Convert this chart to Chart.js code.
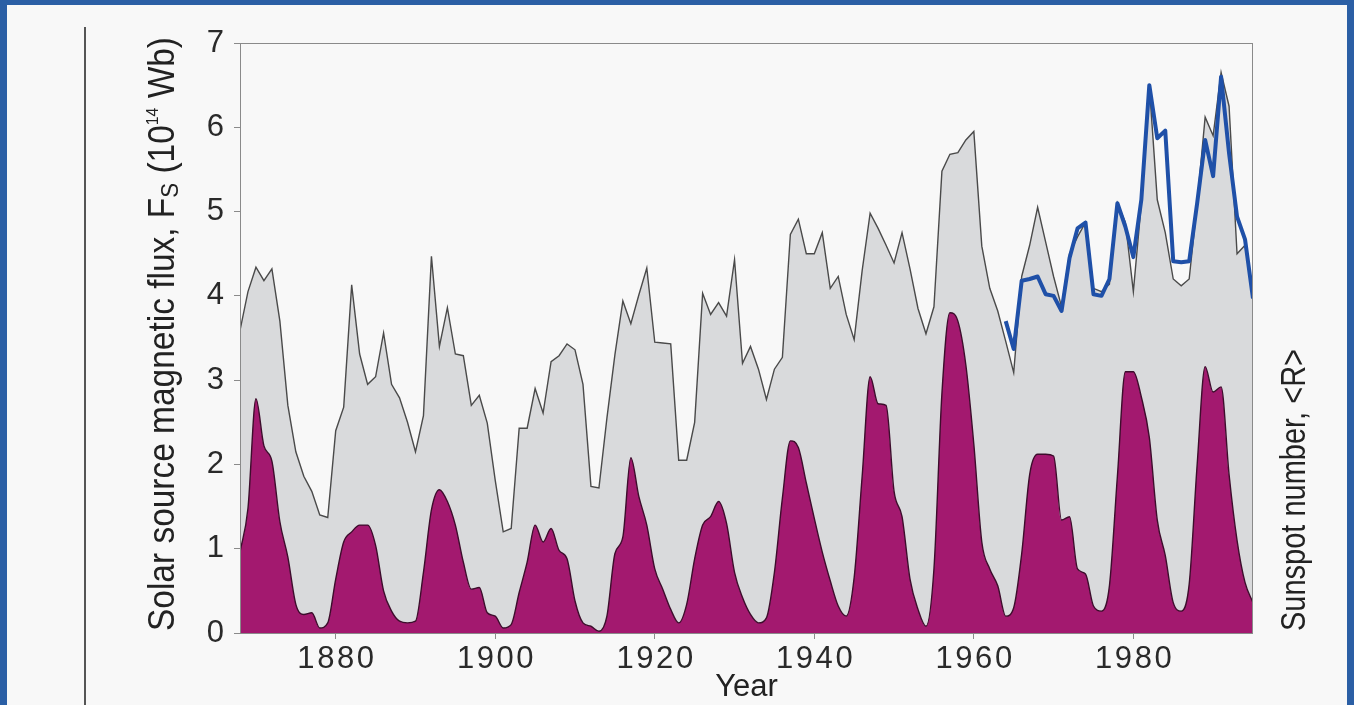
<!DOCTYPE html>
<html>
<head>
<meta charset="utf-8">
<script src="https://cdn.jsdelivr.net/npm/chart.js@4.4.1/dist/chart.umd.min.js"></script>
<style>
  html, body { margin: 0; padding: 0; }
  body { width: 1354px; height: 705px; background: #2b5fa5; overflow: hidden; position: relative; }
  #panel { position: absolute; left: 7px; top: 5px; width: 1340px; height: 700px; background: #f8f8f8; }
  canvas { display: block; }
</style>
</head>
<body>
<div id="panel"><canvas id="fluxChart" width="1340" height="700"></canvas></div>
<script>
// years of the annual series
const years = [
  1868, 1869, 1870, 1871, 1872, 1873, 1874, 1875, 1876, 1877,
  1878, 1879, 1880, 1881, 1882, 1883, 1884, 1885, 1886, 1887,
  1888, 1889, 1890, 1891, 1892, 1893, 1894, 1895, 1896, 1897,
  1898, 1899, 1900, 1901, 1902, 1903, 1904, 1905, 1906, 1907,
  1908, 1909, 1910, 1911, 1912, 1913, 1914, 1915, 1916, 1917,
  1918, 1919, 1920, 1921, 1922, 1923, 1924, 1925, 1926, 1927,
  1928, 1929, 1930, 1931, 1932, 1933, 1934, 1935, 1936, 1937,
  1938, 1939, 1940, 1941, 1942, 1943, 1944, 1945, 1946, 1947,
  1948, 1949, 1950, 1951, 1952, 1953, 1954, 1955, 1956, 1957,
  1958, 1959, 1960, 1961, 1962, 1963, 1964, 1965, 1966, 1967,
  1968, 1969, 1970, 1971, 1972, 1973, 1974, 1975, 1976, 1977,
  1978, 1979, 1980, 1981, 1982, 1983, 1984, 1985, 1986, 1987,
  1988, 1989, 1990, 1991, 1992, 1993, 1994, 1995
];

// reconstructed open solar flux, 10^14 Wb (grey area)
const fluxValues = [
  3.59, 4.05, 4.34, 4.18, 4.32, 3.70, 2.70, 2.15, 1.86, 1.68,
  1.40, 1.37, 2.40, 2.68, 4.13, 3.31, 2.95, 3.04, 3.56, 2.95,
  2.79, 2.50, 2.15, 2.58, 4.47, 3.40, 3.86, 3.31, 3.29, 2.70,
  2.82, 2.49, 1.81, 1.20, 1.24, 2.43, 2.43, 2.90, 2.61, 3.22,
  3.29, 3.43, 3.36, 2.95, 1.74, 1.72, 2.55, 3.30, 3.94, 3.67,
  4.01, 4.33, 3.45, 3.44, 3.43, 2.05, 2.05, 2.50, 4.03, 3.78,
  3.92, 3.76, 4.43, 3.20, 3.40, 3.13, 2.77, 3.13, 3.27, 4.73,
  4.91, 4.50, 4.50, 4.75, 4.09, 4.23, 3.78, 3.48, 4.30, 4.98,
  4.80, 4.60, 4.39, 4.75, 4.32, 3.85, 3.55, 3.87, 5.48, 5.68,
  5.70, 5.85, 5.95, 4.59, 4.09, 3.82, 3.46, 3.09, 4.23, 4.60,
  5.05, 4.64, 4.23, 3.87, 4.50, 4.70, 4.87, 4.09, 4.05, 4.14,
  5.10, 4.87, 4.05, 5.10, 6.50, 5.14, 4.75, 4.20, 4.12, 4.20,
  5.10, 6.12, 5.90, 6.65, 6.25, 4.50, 4.60, 4.08
];

// annual mean sunspot number <R> (magenta area, right axis)
const sunspotValues = [
  48, 74, 139, 111, 102, 66, 45, 17, 11, 12,
  3, 6, 32, 54, 60, 64, 64, 52, 25, 13,
  7, 6, 7, 36, 73, 85, 78, 64, 42, 26,
  27, 12, 10, 3, 5, 24, 42, 64, 54, 62,
  49, 44, 19, 6, 4, 1, 10, 47, 57, 104,
  81, 64, 38, 26, 14, 6, 17, 44, 64, 69,
  78, 65, 36, 21, 11, 6, 9, 36, 80, 114,
  110, 89, 68, 48, 31, 16, 10, 33, 93, 152,
  136, 135, 84, 69, 32, 14, 4, 38, 142, 190,
  185, 159, 112, 54, 38, 28, 10, 15, 47, 94,
  106, 106, 105, 67, 69, 38, 35, 16, 13, 28,
  93, 155, 155, 140, 116, 67, 46, 18, 13, 29,
  100, 158, 143, 146, 94, 55, 30, 18
];

// measured flux (blue line)
const measuredYears = [
  1964, 1965, 1966, 1967, 1968, 1969, 1970, 1971, 1972, 1973,
  1974, 1975, 1976, 1977, 1978, 1979, 1980, 1981, 1982, 1983,
  1984, 1985, 1986, 1987, 1988, 1989, 1990, 1991, 1992, 1993,
  1994, 1995
];
const measuredValues = [
  3.70, 3.37, 4.18, 4.20, 4.23, 4.02, 4.00, 3.82, 4.45, 4.80,
  4.87, 4.02, 4.00, 4.20, 5.10, 4.82, 4.46, 5.14, 6.50, 5.87,
  5.96, 4.41, 4.40, 4.41, 5.10, 5.85, 5.42, 6.60, 5.69, 4.94,
  4.67, 3.97
];

const xTicks = [1880, 1900, 1920, 1940, 1960, 1980];
const yTicks = [0, 1, 2, 3, 4, 5, 6, 7];

const TICK_FONT = '"Liberation Sans", Arial, sans-serif';
const TITLE_FONT = '"Liberation Sans", Arial, sans-serif';

const toPoints = (xs, ys) => xs.map((x, i) => ({ x: x, y: ys[i] }));

// rotated label made of parts with their own size / shift,
// squeezed along the text so it looks like a condensed face
function drawRotated(ctx, parts, x, y, length) {
  ctx.save();
  ctx.translate(x, y);
  ctx.rotate(-Math.PI / 2);
  let natural = 0;
  parts.forEach(p => {
    ctx.font = p.size + 'px ' + TITLE_FONT;
    natural += ctx.measureText(p.text).width;
  });
  ctx.scale(length / natural, 1);
  ctx.fillStyle = '#222';
  ctx.textBaseline = 'middle';
  ctx.textAlign = 'left';
  let pos = 0;
  parts.forEach(p => {
    ctx.font = p.size + 'px ' + TITLE_FONT;
    ctx.fillText(p.text, pos, p.dy || 0);
    pos += ctx.measureText(p.text).width;
  });
  ctx.restore();
}

const decorPlugin = {
  id: 'decor',
  afterDatasetsDraw(chart) {
    const { ctx, chartArea: a } = chart;
    ctx.save();
    ctx.strokeStyle = '#8a8a8a';
    ctx.lineWidth = 1;
    ctx.strokeRect(a.left + 0.5, a.top + 0.5, a.right - a.left - 1, a.bottom - a.top);
    ctx.restore();
  },
  afterDraw(chart) {
    const { ctx, chartArea: a } = chart;

    // thin rule on the far left of the panel
    ctx.save();
    ctx.strokeStyle = '#555';
    ctx.lineWidth = 2;
    ctx.beginPath();
    ctx.moveTo(78, 22);
    ctx.lineTo(78, 700);
    ctx.stroke();
    ctx.restore();

    drawRotated(ctx, [
      { text: 'Solar source magnetic flux, F', size: 36 },
      { text: 'S', size: 24, dy: 7 },
      { text: ' (10', size: 36 },
      { text: '14', size: 17, dy: -11 },
      { text: ' Wb)', size: 36 }
    ], 157, 626, 594);

    drawRotated(ctx, [{ text: 'Sunspot number, <R>', size: 35 }], 1288, 626, 282);

    ctx.save();
    ctx.fillStyle = '#222';
    ctx.font = '31px ' + TICK_FONT;
    ctx.textAlign = 'center';
    ctx.textBaseline = 'middle';
    ctx.fillText('Year', (a.left + a.right) / 2, 682);
    ctx.restore();
  }
};

const ctx = document.getElementById('fluxChart');

new Chart(ctx, {
  type: 'line',
  data: {
    datasets: [{
      label: 'Measured flux',
      data: toPoints(measuredYears, measuredValues),
      borderColor: '#1f50a8',
      borderWidth: 4,
      borderJoinStyle: 'round',
      pointRadius: 0,
      fill: false,
      yAxisID: 'y',
      order: 0
    }, {
      label: 'Sunspot number',
      data: toPoints(years, sunspotValues),
      borderColor: '#3d0d2c',
      borderWidth: 1.4,
      backgroundColor: '#a3196f',
      pointRadius: 0,
      cubicInterpolationMode: 'monotone',
      fill: 'origin',
      yAxisID: 'y2',
      order: 1
    }, {
      label: 'Reconstructed flux',
      data: toPoints(years, fluxValues),
      borderColor: '#4a4a4a',
      borderWidth: 1.4,
      backgroundColor: '#d9dadc',
      pointRadius: 0,
      fill: 'origin',
      yAxisID: 'y',
      order: 2
    }]
  },
  options: {
    responsive: false,
    animation: false,
    devicePixelRatio: 1,
    layout: {
      padding: { left: 0, top: 38, right: 94, bottom: 0 }
    },
    plugins: {
      legend: { display: false },
      tooltip: { enabled: false }
    },
    scales: {
      x: {
        type: 'linear',
        min: 1868,
        max: 1995,
        afterBuildTicks: scale => { scale.ticks = xTicks.map(v => ({ value: v })); },
        afterFit: scale => { scale.height = 72; },
        ticks: {
          autoSkip: false,
          maxRotation: 0,
          padding: 2,
          color: '#2a2a2a',
          font: { family: TICK_FONT, size: 31 },
          callback: v => String(v).split('').join(String.fromCharCode(8202))
        },
        grid: {
          drawOnChartArea: false,
          drawTicks: true,
          tickLength: 6,
          color: '#8a8a8a'
        },
        border: { display: false }
      },
      y: {
        min: 0,
        max: 7,
        afterBuildTicks: scale => { scale.ticks = yTicks.map(v => ({ value: v })); },
        afterFit: scale => { scale.width = 233; },
        ticks: {
          padding: 10,
          color: '#2a2a2a',
          font: { family: TICK_FONT, size: 31 },
          callback: v => String(v)
        },
        grid: {
          drawOnChartArea: false,
          drawTicks: true,
          tickLength: 6,
          color: '#8a8a8a'
        },
        border: { display: false }
      },
      y2: {
        position: 'right',
        min: 0,
        max: 350,
        display: false
      }
    }
  },
  plugins: [decorPlugin]
});
</script>
</body>
</html>
